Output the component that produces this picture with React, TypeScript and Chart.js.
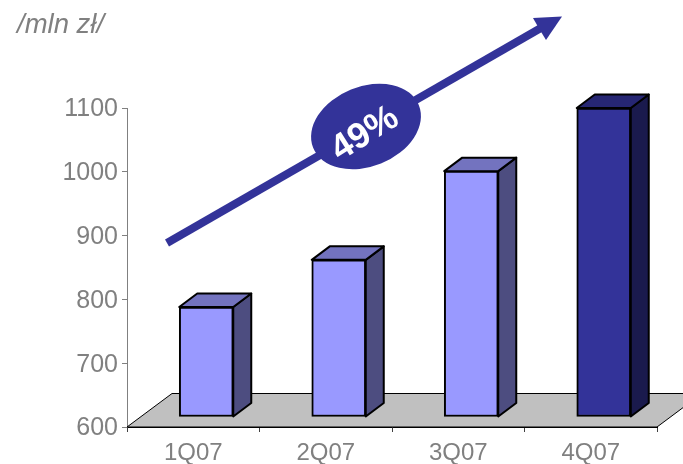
import React, { useEffect, useRef } from "react";
import { Chart, registerables } from "chart.js";

Chart.register(...registerables);

const categories = ["1Q07", "2Q07", "3Q07", "4Q07"];
const values = [788, 862, 1001, 1100];
const yTicks = [600, 700, 800, 900, 1000, 1100];
const barBase = 616.5;
const frontColors = ["#9999FF", "#9999FF", "#9999FF", "#333399"];
const sideColors = ["#4D4D80", "#4D4D80", "#4D4D80", "#1A1A4D"];
const topColors = ["#7373BF", "#7373BF", "#7373BF", "#262673"];
const unitLabel = "/mln zł/";
const growthLabel = "49%";

const FONT = '"Liberation Sans", Arial, sans-serif';
const GREY = "#808080";
const NAVY = "#333399";
const barShift = 13;
const depthX = 18;
const depthY = 13.5;
const floorX = 45;
const floorY = 33.5;

const threeD = {
  id: "threeD",
  beforeDatasetsDraw(chart: any) {
    const { ctx, chartArea: a } = chart;
    ctx.save();
    ctx.beginPath();
    ctx.moveTo(a.left, a.bottom);
    ctx.lineTo(a.left + floorX, a.bottom - floorY);
    ctx.lineTo(a.right + floorX, a.bottom - floorY);
    ctx.lineTo(a.right, a.bottom);
    ctx.closePath();
    ctx.fillStyle = "#C0C0C0";
    ctx.strokeStyle = "#000";
    ctx.lineWidth = 1;
    ctx.fill();
    ctx.stroke();
    ctx.restore();
  },
  beforeDatasetDraw(chart: any, args: any) {
    const { ctx } = chart;
    ctx.save();
    ctx.translate(barShift, 0);
    ctx.lineWidth = 2;
    ctx.strokeStyle = "#000";
    ctx.lineJoin = "round";
    args.meta.data.forEach((el: any, i: number) => {
      const l = el.x - el.width / 2;
      const r = el.x + el.width / 2;
      const t = el.y;
      const b = el.base;
      ctx.beginPath();
      ctx.moveTo(r, t);
      ctx.lineTo(r + depthX, t - depthY);
      ctx.lineTo(r + depthX, b - depthY);
      ctx.lineTo(r, b);
      ctx.closePath();
      ctx.fillStyle = sideColors[i];
      ctx.fill();
      ctx.stroke();
      ctx.beginPath();
      ctx.moveTo(l, t);
      ctx.lineTo(l + depthX, t - depthY);
      ctx.lineTo(r + depthX, t - depthY);
      ctx.lineTo(r, t);
      ctx.closePath();
      ctx.fillStyle = topColors[i];
      ctx.fill();
      ctx.stroke();
    });
  },
  afterDatasetDraw(chart: any) {
    chart.ctx.restore();
  },
  afterDraw(chart: any) {
    const { ctx } = chart;
    ctx.save();
    ctx.font = `italic 27.5px ${FONT}`;
    ctx.fillStyle = GREY;
    ctx.textBaseline = "alphabetic";
    ctx.textAlign = "left";
    ctx.fillText(unitLabel, 17, 33);

    ctx.strokeStyle = NAVY;
    ctx.fillStyle = NAVY;
    ctx.lineWidth = 8;
    ctx.beginPath();
    ctx.moveTo(167, 243);
    ctx.lineTo(540, 28.5);
    ctx.stroke();
    ctx.beginPath();
    ctx.moveTo(562, 16.5);
    ctx.lineTo(533, 18);
    ctx.lineTo(539, 28.5);
    ctx.lineTo(546, 40);
    ctx.closePath();
    ctx.fill();

    ctx.beginPath();
    ctx.ellipse(366, 126.5, 57, 40, (-22 * Math.PI) / 180, 0, Math.PI * 2);
    ctx.fill();

    ctx.translate(365, 134);
    ctx.rotate((-32 * Math.PI) / 180);
    ctx.font = `bold 36px ${FONT}`;
    ctx.fillStyle = "#fff";
    ctx.textAlign = "center";
    ctx.textBaseline = "middle";
    ctx.fillText(growthLabel, 0, 0);
    ctx.restore();
  },
};

export default function App() {
  const ref = useRef<HTMLCanvasElement>(null);
  useEffect(() => {
    const chart = new Chart(ref.current!, {
      type: "bar",
      data: {
        labels: categories,
        datasets: [
          {
            data: values,
            base: barBase,
            backgroundColor: frontColors,
            borderColor: "#000",
            borderWidth: 2,
            borderSkipped: false,
            barThickness: 54,
          } as any,
        ],
      },
      plugins: [threeD],
      options: {
        responsive: false,
        animation: false,
        devicePixelRatio: 1,
        layout: { padding: { top: 108, right: 26, left: 0, bottom: 0 } },
        plugins: { legend: { display: false }, tooltip: { enabled: false } },
        scales: {
          x: {
            afterFit(s: any) {
              s.height = 37;
            },
            grid: { drawOnChartArea: false, tickLength: 5, color: "#404040", lineWidth: 1 },
            border: { color: "#000", width: 1 },
            ticks: { color: GREY, font: { family: FONT, size: 24 }, padding: 7, maxRotation: 0 },
          },
          y: {
            min: 600,
            max: 1100,
            afterFit(s: any) {
              s.width = 127;
            },
            afterBuildTicks(s: any) {
              s.ticks = yTicks.map((value) => ({ value }));
            },
            grid: { drawOnChartArea: false, tickLength: 5, color: GREY, lineWidth: 1 },
            border: { color: GREY, width: 1 },
            ticks: {
              color: GREY,
              font: { family: FONT, size: 25 },
              padding: 4,
              labelOffset: 1.5,
              callback: (v: any) => String(v),
            },
          },
        },
      } as any,
    });
    return () => chart.destroy();
  }, []);
  return (
    <div style={{ position: "fixed", left: 0, top: 0, width: 683, height: 464, background: "#fff" }}>
      <canvas ref={ref} width={683} height={464} style={{ display: "block" }} />
    </div>
  );
}
